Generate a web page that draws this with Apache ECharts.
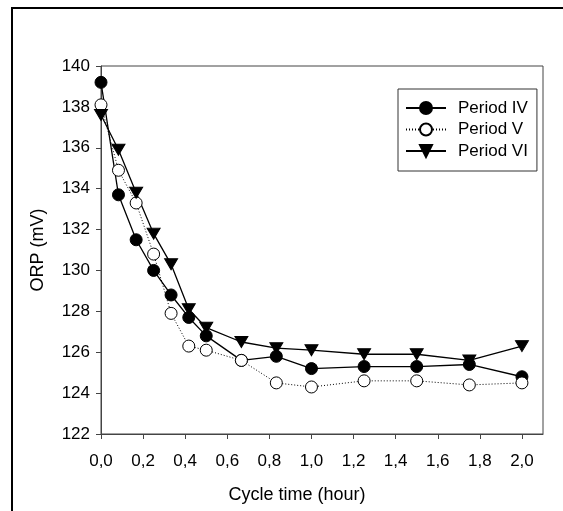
<!DOCTYPE html>
<html>
<head>
<meta charset="utf-8">
<script src="https://cdn.jsdelivr.net/npm/echarts@6/dist/echarts.min.js"></script>
<style>
  html, body { margin: 0; padding: 0; background: #fff; }
  #chart { width: 563px; height: 511px; }
</style>
</head>
<body>
<div id="chart"></div>
<script>
// cycle time in hours
const times = [0, 0.083, 0.167, 0.25, 0.333, 0.417, 0.5, 0.667, 0.833, 1.0, 1.25, 1.5, 1.75, 2.0];
const periodIV = [139.2, 133.7, 131.5, 130.0, 128.8, 127.7, 126.8, 125.6, 125.8, 125.2, 125.3, 125.3, 125.4, 124.8];
const periodV = [138.1, 134.9, 133.3, 130.8, 127.9, 126.3, 126.1, 125.6, 124.5, 124.3, 124.6, 124.6, 124.4, 124.5];
const periodVI = [137.6, 135.9, 133.8, 131.8, 130.3, 128.1, 127.2, 126.5, 126.2, 126.1, 125.9, 125.9, 125.6, 126.3];
const xTicks = [0, 0.2, 0.4, 0.6, 0.8, 1.0, 1.2, 1.4, 1.6, 1.8, 2.0];

const font = 'Liberation Sans, Arial, sans-serif';
const axisColor = '#444';

function pairs(ys) {
  return times.map((t, i) => [t, ys[i]]);
}

const chart = echarts.init(document.getElementById('chart'));

chart.setOption({
  animation: false,
  textStyle: { fontFamily: font, color: '#000' },
  grid: {
    left: 101,
    top: 66,
    right: 20,
    bottom: 77,
    show: true,
    borderColor: axisColor,
    borderWidth: 1,
  },
  xAxis: {
    type: 'value',
    min: 0,
    max: 2.1,
    name: 'Cycle time (hour)',
    nameLocation: 'middle',
    nameGap: 52,
    nameTextStyle: { fontSize: 18, color: '#000', fontFamily: font, padding: [0, 50, 0, 0] },
    axisLine: { lineStyle: { color: axisColor, width: 1 } },
    axisTick: { length: 5, lineStyle: { color: axisColor }, customValues: xTicks },
    axisLabel: {
      customValues: xTicks,
      fontSize: 17,
      color: '#000',
      margin: 19,
      formatter: (v) => v.toFixed(1).replace('.', ','),
    },
    splitLine: { show: false },
  },
  yAxis: {
    type: 'value',
    min: 122,
    max: 140,
    interval: 2,
    name: 'ORP (mV)',
    nameLocation: 'middle',
    nameGap: 54,
    nameTextStyle: { fontSize: 18, color: '#000', fontFamily: font },
    axisLine: { show: true, lineStyle: { color: axisColor, width: 1 } },
    axisTick: { show: true, length: 5, lineStyle: { color: axisColor } },
    axisLabel: { fontSize: 17, color: '#000', margin: 11 },
    splitLine: { show: false },
  },
  legend: {
    orient: 'vertical',
    left: 398,
    top: 89,
    padding: [10, 9, 11, 7],
    borderColor: '#333',
    borderWidth: 1,
    backgroundColor: '#fff',
    itemWidth: 40,
    itemHeight: 15,
    itemGap: 3.5,
    textStyle: { fontSize: 17, color: '#000', lineHeight: 18, padding: [0, 0, 0, 7] },
    data: ['Period IV', 'Period V', 'Period VI'],
  },
  graphic: [
    {
      type: 'rect',
      shape: { x: 12, y: 8, width: 700, height: 700 },
      style: { fill: 'none', stroke: '#000', lineWidth: 2 },
      silent: true,
    },
  ],
  series: [
    {
      name: 'Period IV',
      type: 'line',
      data: pairs(periodIV),
      symbol: 'circle',
      symbolSize: 12,
      itemStyle: { color: '#000', borderColor: '#000', borderWidth: 1 },
      lineStyle: { color: '#000', width: 1.3 },
    },
    {
      name: 'Period V',
      type: 'line',
      data: pairs(periodV),
      symbol: 'circle',
      symbolSize: 12,
      itemStyle: { color: '#fff', borderColor: '#000', borderWidth: 1 },
      lineStyle: { color: '#000', width: 1, type: [1, 2] },
    },
    {
      name: 'Period VI',
      type: 'line',
      data: pairs(periodVI),
      symbol: 'triangle',
      symbolRotate: 180,
      symbolSize: [13, 11],
      itemStyle: { color: '#000', borderColor: '#000', borderWidth: 1 },
      lineStyle: { color: '#000', width: 1.3 },
    },
  ],
});
</script>
</body>
</html>
